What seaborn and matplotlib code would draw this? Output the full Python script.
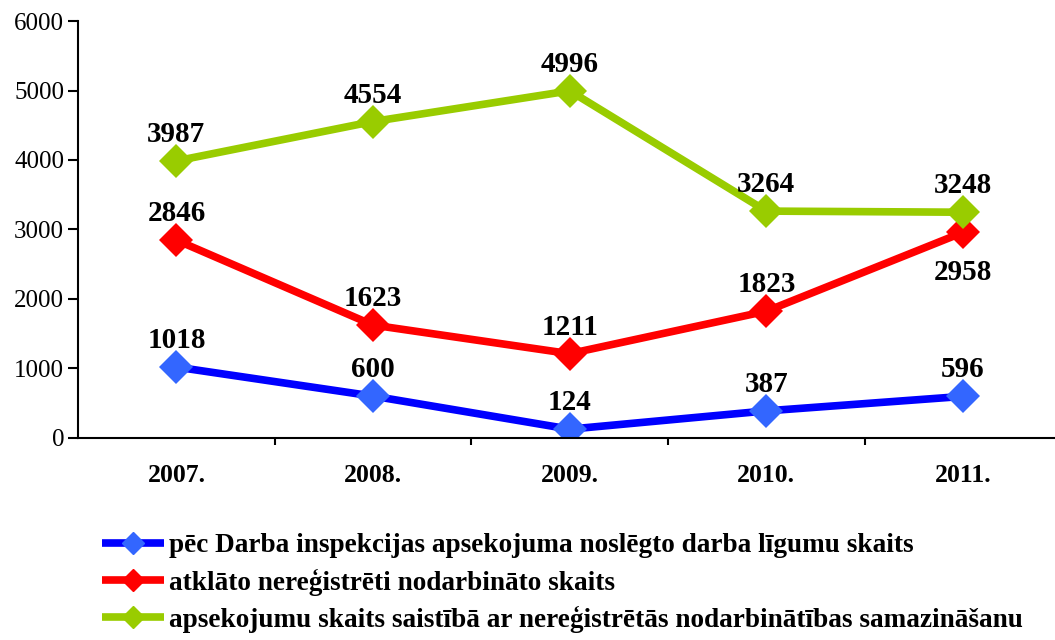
import pandas as pd
import matplotlib.pyplot as plt
from matplotlib.lines import Line2D
import seaborn as sns

# data
years = ["2007.", "2008.", "2009.", "2010.", "2011."]
s_contracts = [1018, 600, 124, 387, 596]
s_unregistered = [2846, 1623, 1211, 1823, 2958]
s_inspections = [3987, 4554, 4996, 3264, 3248]
names = [
    "pēc Darba inspekcijas apsekojuma noslēgto darba līgumu skaits",
    "atklāto nereģistrēti nodarbināto skaits",
    "apsekojumu skaits saistībā ar nereģistrētās nodarbinātības samazināšanu",
]
line_colors = ["#0000FF", "#FF0000", "#99CC00"]
marker_colors = ["#3366FF", "#FF0000", "#99CC00"]
label_above = [
    [True, True, True, True, True],
    [True, True, True, True, False],
    [True, True, True, True, True],
]

rows = []
for name, vals in zip(names, [s_contracts, s_unregistered, s_inspections]):
    for i, v in enumerate(vals):
        rows.append({"x": i, "year": years[i], "value": v, "series": name})
df = pd.DataFrame(rows)

sns.set_style("white")
plt.rcParams["font.family"] = ["Liberation Serif", "DejaVu Serif"]
plt.rcParams["text.color"] = "black"
plt.rcParams["xtick.color"] = "black"
plt.rcParams["ytick.color"] = "black"

fig = plt.figure(figsize=(10.55, 6.4), dpi=100)
ax = fig.add_axes([0.074, 0.316, 0.932, 0.651])

sns.lineplot(data=df, x="x", y="value", hue="series", hue_order=names,
             palette=line_colors, linewidth=5.5, marker="D", markersize=17,
             markeredgewidth=0, ax=ax, legend=False)

lines = ax.get_lines()
for ln, mc in zip(lines, marker_colors):
    ln.set_markerfacecolor(mc)
    ln.set_markeredgecolor(mc)
    ln.set_solid_joinstyle("miter")
    ln.set_solid_capstyle("butt")

for vals, above in zip([s_contracts, s_unregistered, s_inspections], label_above):
    for i, v in enumerate(vals):
        off = 19 if above[i] else -29
        ax.annotate(str(v), (i, v), xytext=(0, off), textcoords="offset points",
                    ha="center", va="center", fontsize=21, fontweight="bold",
                    color="black")

ax.set_xlim(-0.5, 4.5)
ax.set_ylim(0, 6000)
ax.set_yticks(range(0, 6001, 1000))
ax.set_yticklabels([str(t) for t in range(0, 6001, 1000)], fontsize=18)
ax.set_xticks(range(5))
ax.set_xticklabels(years, fontsize=18.5, fontweight="bold")
ax.set_xticks([0.5, 1.5, 2.5, 3.5], minor=True)
ax.tick_params(axis="x", which="major", bottom=False, length=0, pad=19)
ax.tick_params(axis="x", which="minor", bottom=True, length=5, width=1.5, direction="out")
ax.tick_params(axis="y", left=True, length=7, width=1.5, direction="out", pad=3)
ax.set_xlabel("")
ax.set_ylabel("")
for side in ["top", "right"]:
    ax.spines[side].set_visible(False)
for side in ["left", "bottom"]:
    ax.spines[side].set_color("black")
    ax.spines[side].set_linewidth(1.5)

handles = [Line2D([], [], color=lc, linewidth=5.5, marker="D", markersize=11,
                  markerfacecolor=mc, markeredgecolor=mc, solid_capstyle="butt")
           for lc, mc in zip(line_colors, marker_colors)]
fig.legend(handles, names, loc="upper left", bbox_to_anchor=(0.097, 0.167),
           frameon=False, handlelength=2.25, handletextpad=0.2, labelspacing=0.38,
           borderaxespad=0, borderpad=0,
           prop={"family": ["Liberation Serif", "DejaVu Serif"], "weight": "bold", "size": 19.6})

fig.savefig("out.png", dpi=100)
